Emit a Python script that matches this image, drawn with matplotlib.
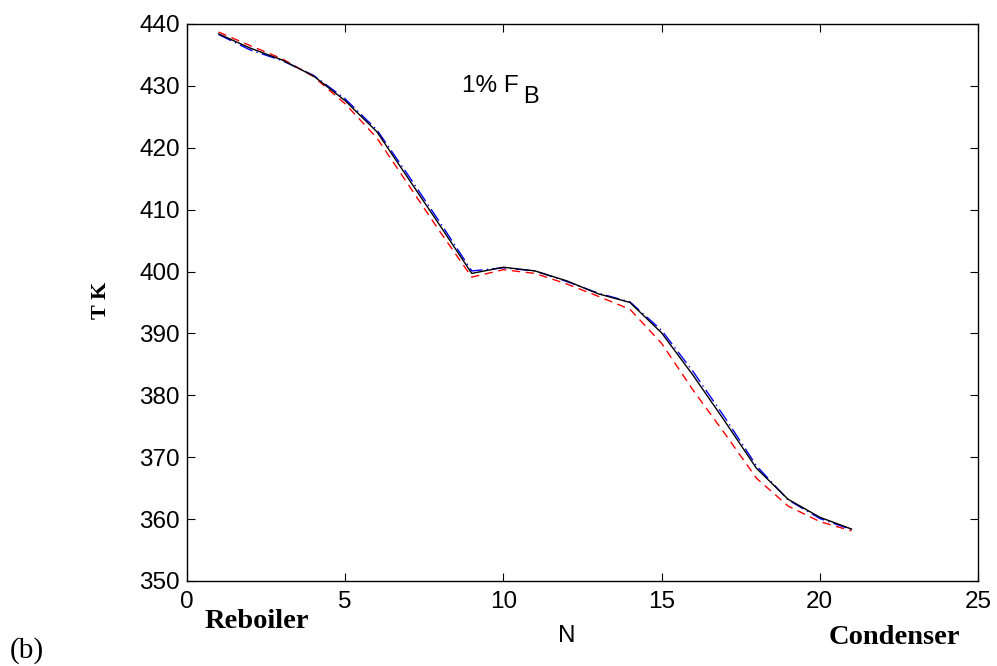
import matplotlib
matplotlib.use("Agg")
import matplotlib.pyplot as plt

# Stage number (1 = reboiler, 21 = condenser)
stage = list(range(1, 22))

# Temperature profiles, K
temp_black = [438.4, 436.1, 434.2, 431.6, 427.6, 422.6, 415.0, 407.4, 399.7, 400.7,
              400.1, 398.5, 396.4, 395.0, 390.1, 383.2, 375.8, 368.2, 363.2, 360.3, 358.4]
temp_blue = [438.3, 435.8, 434.1, 431.7, 427.9, 422.9, 415.5, 407.9, 400.1, 400.6,
             400.1, 398.4, 396.5, 395.1, 390.5, 383.8, 376.4, 368.6, 363.1, 360.1, 358.3]
temp_red = [438.7, 436.5, 434.4, 431.5, 427.1, 421.6, 414.0, 406.4, 399.1, 400.3,
            399.7, 398.0, 396.0, 393.9, 388.4, 380.8, 373.8, 366.6, 362.1, 359.6, 358.1]

xticks = [0, 5, 10, 15, 20, 25]
yticks = [350, 360, 370, 380, 390, 400, 410, 420, 430, 440]

W, H = 997, 666
fig = plt.figure(figsize=(W / 100, H / 100), dpi=100)
ax = fig.add_axes([187 / W, 1 - 581 / H, (978 - 187) / W, (581 - 24) / H])

ax.plot(stage, temp_blue, color="#0000ff", lw=1.0, linestyle=(0, (10, 3, 1, 3)), zorder=2)
ax.plot(stage, temp_red, color="#ff0000", lw=1.0, linestyle=(0, (6, 4)), zorder=3)
ax.plot(stage, temp_black, color="#000000", lw=1.0, zorder=4)

ax.set_xlim(0, 25)
ax.set_ylim(350, 440)
ax.set_xticks(xticks)
ax.set_yticks(yticks)
ax.tick_params(direction="in", length=6, width=0.8, top=True, right=True,
               labelsize=17.5)
ax.tick_params(axis="x", pad=7)
ax.tick_params(axis="y", pad=5)
for lab in ax.get_xticklabels() + ax.get_yticklabels():
    lab.set_fontfamily("Liberation Sans")
for sp in ax.spines.values():
    sp.set_linewidth(1.0)

def px(x, y):
    return x / W, 1 - y / H

# annotation "1% F" with subscript B
fig.text(*px(462, 92), "1% F", fontsize=17.5, fontfamily="Liberation Sans",
         ha="left", va="baseline")
fig.text(*px(523, 103), "B", fontsize=17, fontfamily="Liberation Sans",
         ha="left", va="baseline")

fig.text(*px(101, 300), "T K", rotation=90, fontsize=16, fontweight="bold",
         fontfamily="Liberation Serif", ha="center", va="center")
fig.text(*px(257, 621), "Reboiler", fontsize=20.5, fontweight="bold",
         fontfamily="Liberation Serif", ha="center", va="center")
fig.text(*px(567, 636), "N", fontsize=17.5,
         fontfamily="Liberation Sans", ha="center", va="center")
fig.text(*px(894, 638), "Condenser", fontsize=20.5, fontweight="bold",
         fontfamily="Liberation Serif", ha="center", va="center")
fig.text(*px(27, 651), "(b)", fontsize=21,
         fontfamily="Liberation Serif", ha="center", va="center")

fig.savefig("out.png", dpi=100)
